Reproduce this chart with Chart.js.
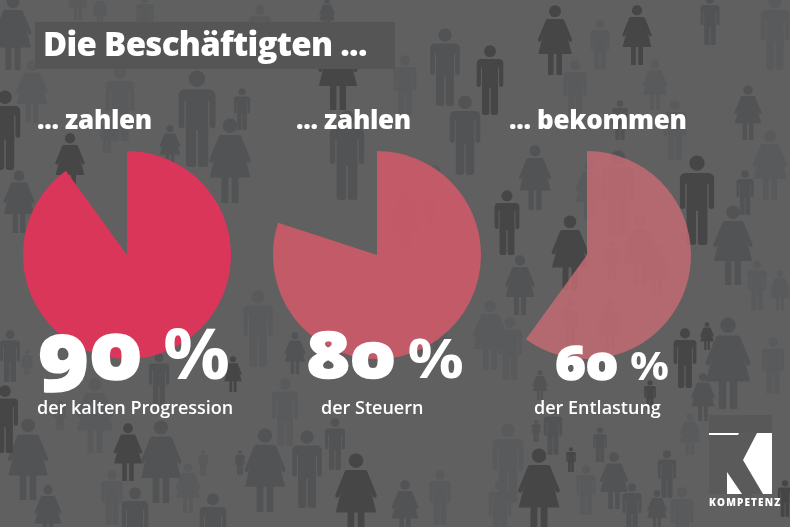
<!DOCTYPE html>
<html lang="de">
<head>
<meta charset="utf-8">
<title>Die Beschäftigten ...</title>
<script src="https://cdn.jsdelivr.net/npm/chart.js@4"></script>
<style>
  html, body { margin: 0; padding: 0; background: #606061; }
  #stage { position: relative; width: 790px; height: 527px; overflow: hidden; font-family: "Open Sans", sans-serif; color: #fff; }
  #stage > * { position: absolute; }
  #crowd { left: 0; top: 0; }
  .bar { left: 35px; top: 22px; width: 360px; height: 47px; background: #555555; }
  .title { left: 43px; top: 22px; font-size: 33px; font-weight: 800; letter-spacing: -0.7px; line-height: 44px; white-space: nowrap; }
  .head { font-size: 26px; font-weight: 800; letter-spacing: -0.3px; line-height: 36px; white-space: nowrap; }
  .pct { font-family: "Open Sans", sans-serif; font-weight: 800; font-feature-settings: "onum" 1; -webkit-text-stroke: 1.5px #fff; white-space: nowrap; transform-origin: 0 0; }
  .pct span { font-weight: 700; -webkit-text-stroke: 0; font-feature-settings: normal; }
  .cap { font-size: 18px; font-weight: 600; line-height: 24px; white-space: nowrap; }
  .pie { width: 210px; height: 210px; }
  .logotext { left: 709px; top: 495px; font-family: "Open Sans", sans-serif; font-size: 10px; font-weight: 800; letter-spacing: 1.15px; line-height: 14px; white-space: nowrap; }
</style>
</head>
<body>
<div id="stage">
  <canvas id="crowd" width="790" height="527"></canvas>
  <div class="bar"></div>
  <div class="title">Die Beschäftigten ...</div>
  <div class="logotext">KOMPETENZ</div>
</div>
<script>
// === DATEN ===
const anteile = [90, 80, 60];
const rest = [10, 20, 40];
const verben = ["... zahlen", "... zahlen", "... bekommen"];
const prozentTexte = ["90 %", "80 %", "60 %"];
const unterzeilen = ["der kalten Progression", "der Steuern", "der Entlastung"];
const farben = ["#d9365a", "rgba(203,90,104,0.92)", "rgba(197,106,114,0.84)"];

// === LAYOUT (nur Platzierung der Texte und Kreise) ===
const mitteX = [127, 377, 587];
const verbX = [37, 296, 509];
const prozentBox = [
  { x: 38, top: 293, size: 80, sx: 1.07, zeichen: 0.87, abstand: -1 },
  { x: 306, top: 310, size: 64, sx: 1.15, zeichen: 0.85, abstand: -6 },
  { x: 555, top: 330, size: 47, sx: 1.1, zeichen: 0.84, abstand: -1 }
];
const capX = [37, 321, 534];

// === HINTERGRUND: Piktogramme ===
// [x-Mitte, oben, Höhe, "m"/"w", Ton 0..2]
const leute = [
  [13,-5,75,"w",1],[32,60,63,"w",2],[120,66,75,"m",2],[197,70,97,"m",1],[5,90,80,"m",0],[70,133,60,"w",0],
  [230,118,85,"w",1],[338,30,80,"w",0],[347,110,90,"m",1],[19,170,63,"w",1],[242,88,42,"m",1],[145,-5,45,"m",2],
  [100,-5,30,"w",2],[78,-20,40,"w",2],[260,5,55,"m",2],[327,-2,32,"w",1],[107,118,35,"m",2],[170,125,42,"w",1],
  [28,418,82,"w",1],[128,423,58,"w",0],[161,420,83,"w",1],[265,428,84,"w",1],[307,430,78,"m",1],[356,453,85,"w",0],
  [5,385,68,"m",0],[258,290,77,"m",2],[10,330,52,"m",1],[159,353,53,"m",1],[233,356,36,"w",0],[285,378,68,"m",2],
  [295,332,42,"w",1],[335,418,52,"m",1],[135,487,70,"m",1],[213,493,70,"m",1],[48,485,55,"w",1],[188,463,50,"w",2],
  [95,378,75,"w",2],[60,400,30,"m",2],[112,470,55,"m",2],[27,350,25,"w",2],[203,450,26,"m",2],[240,450,25,"m",1],
  [555,5,70,"w",0],[637,5,60,"w",0],[490,45,70,"m",0],[445,28,78,"m",1],[405,55,60,"m",2],[575,60,60,"m",2],
  [507,190,65,"m",0],[570,215,75,"w",0],[697,155,90,"m",0],[748,85,55,"w",1],[733,205,80,"w",1],[520,255,60,"w",1],
  [465,95,80,"m",1],[535,145,65,"w",1],[675,100,60,"m",2],[435,165,60,"m",2],[710,-5,50,"m",1],[775,-5,75,"m",2],
  [770,130,70,"w",2],[745,170,45,"m",1],[655,60,50,"w",2],[600,20,50,"m",2],[450,210,70,"m",2],[620,100,40,"m",1],
  [728,317,92,"w",1],[685,328,60,"m",0],[510,317,63,"m",2],[539,448,85,"w",0],[614,452,57,"w",1],[632,483,50,"m",1],
  [667,450,48,"m",1],[600,427,35,"m",1],[571,447,25,"m",0],[586,465,50,"m",2],[703,373,48,"w",1],[773,337,57,"m",2],
  [707,322,28,"w",0],[553,407,48,"m",1],[536,420,22,"m",1],[657,490,40,"w",1],[785,480,37,"m",0],[508,423,80,"m",2],
  [690,413,42,"w",2],[682,487,60,"m",2],[540,370,30,"w",1],[490,300,70,"w",2],[650,380,30,"m",0],[440,290,60,"m",2],
  [757,260,50,"m",2],[500,480,60,"m",2],[780,270,40,"w",2],[745,450,55,"m",2],[440,470,55,"m",2],[405,480,55,"w",1],
  [618,150,85,"m",1],[640,215,70,"w",1],[657,245,50,"w",1],[612,240,40,"m",1],[590,160,60,"w",2],[570,300,45,"m",1],
  [610,300,50,"w",1],[430,195,30,"m",1],[405,190,60,"w",1],[440,260,45,"m",2],[420,310,45,"m",2],[392,290,50,"w",2]
];
const toene = ["#464647", "#525355", "#595a5c"];

function zeichnePerson(ctx, p) {
  const [x, y, h, art, ton] = p;
  const s = h / 100;
  ctx.save();
  ctx.translate(x, y);
  ctx.scale(s, s);
  ctx.fillStyle = toene[ton];
  ctx.beginPath();
  ctx.arc(0, 9, 8.5, 0, Math.PI * 2);
  ctx.fill();
  if (art === "m") {
    ctx.beginPath();
    ctx.roundRect(-19, 20, 38, 12, 6);
    ctx.fill();
    ctx.fillRect(-11.5, 22, 23, 40);
    ctx.beginPath();
    ctx.roundRect(-19, 24, 6, 36, 3);
    ctx.roundRect(13, 24, 6, 36, 3);
    ctx.roundRect(-11.5, 55, 10.5, 45, 3);
    ctx.roundRect(1, 55, 10.5, 45, 3);
    ctx.fill();
  } else {
    ctx.beginPath();
    ctx.moveTo(-11, 20);
    ctx.lineTo(11, 20);
    ctx.lineTo(24, 70);
    ctx.lineTo(-24, 70);
    ctx.closePath();
    ctx.fill();
    ctx.strokeStyle = toene[ton];
    ctx.lineWidth = 5;
    ctx.lineCap = "round";
    ctx.beginPath();
    ctx.moveTo(-11, 23);
    ctx.lineTo(-22, 50);
    ctx.moveTo(11, 23);
    ctx.lineTo(22, 50);
    ctx.stroke();
    ctx.fillRect(-10, 68, 8, 32);
    ctx.fillRect(2, 68, 8, 32);
  }
  ctx.restore();
}

function zeichneHintergrund() {
  const ctx = document.getElementById("crowd").getContext("2d");
  ctx.fillStyle = "#606061";
  ctx.fillRect(0, 0, 790, 527);
  [2, 1, 0].forEach(t => leute.filter(p => p[4] === t).forEach(p => zeichnePerson(ctx, p)));

  // Logo
  ctx.fillStyle = "#585858";
  ctx.fillRect(709, 415, 63, 18);
  ctx.fillStyle = "#ffffff";
  ctx.fillRect(709, 433, 63, 61);
  ctx.fillStyle = "#5a5a5a";
  ctx.beginPath();
  [[709,435],[738,435],[739,433],[757,433],[743,460],[763,494],[742,494],[727,472],[727,494],[709,494]]
    .forEach(([x, y], i) => i ? ctx.lineTo(x, y) : ctx.moveTo(x, y));
  ctx.closePath();
  ctx.fill();
}

// === KREISE UND TEXTE ===
function montarKreis(i) {
  const stage = document.getElementById("stage");
  const canvas = document.createElement("canvas");
  canvas.className = "pie";
  canvas.style.left = (mitteX[i] - 105) + "px";
  canvas.style.top = "150px";
  stage.appendChild(canvas);

  new Chart(canvas, {
    type: "pie",
    data: {
      labels: [prozentTexte[i], "Rest"],
      datasets: [{
        data: [anteile[i], rest[i]],
        backgroundColor: [farben[i], "rgba(0,0,0,0)"],
        borderWidth: 0
      }]
    },
    options: {
      responsive: false,
      animation: false,
      radius: 104,
      layout: { padding: 0 },
      plugins: { legend: { display: false }, tooltip: { enabled: false } }
    }
  });

  const verb = document.createElement("div");
  verb.className = "head";
  verb.textContent = verben[i];
  verb.style.left = verbX[i] + "px";
  verb.style.top = "101px";
  stage.appendChild(verb);

  const pct = document.createElement("div");
  pct.className = "pct";
  const [zahl, zeichen] = prozentTexte[i].split(" ");
  pct.textContent = zahl + " ";
  const span = document.createElement("span");
  span.textContent = zeichen;
  span.style.fontSize = prozentBox[i].zeichen + "em";
  span.style.marginLeft = prozentBox[i].abstand + "px";
  pct.appendChild(span);
  pct.style.left = prozentBox[i].x + "px";
  pct.style.top = prozentBox[i].top + "px";
  pct.style.fontSize = prozentBox[i].size + "px";
  pct.style.transform = "scaleX(" + prozentBox[i].sx + ")";
  stage.appendChild(pct);

  const cap = document.createElement("div");
  cap.className = "cap";
  cap.textContent = unterzeilen[i];
  cap.style.left = capX[i] + "px";
  cap.style.top = "395px";
  stage.appendChild(cap);
}

zeichneHintergrund();
anteile.forEach((_, i) => montarKreis(i));
</script>
</body>
</html>
